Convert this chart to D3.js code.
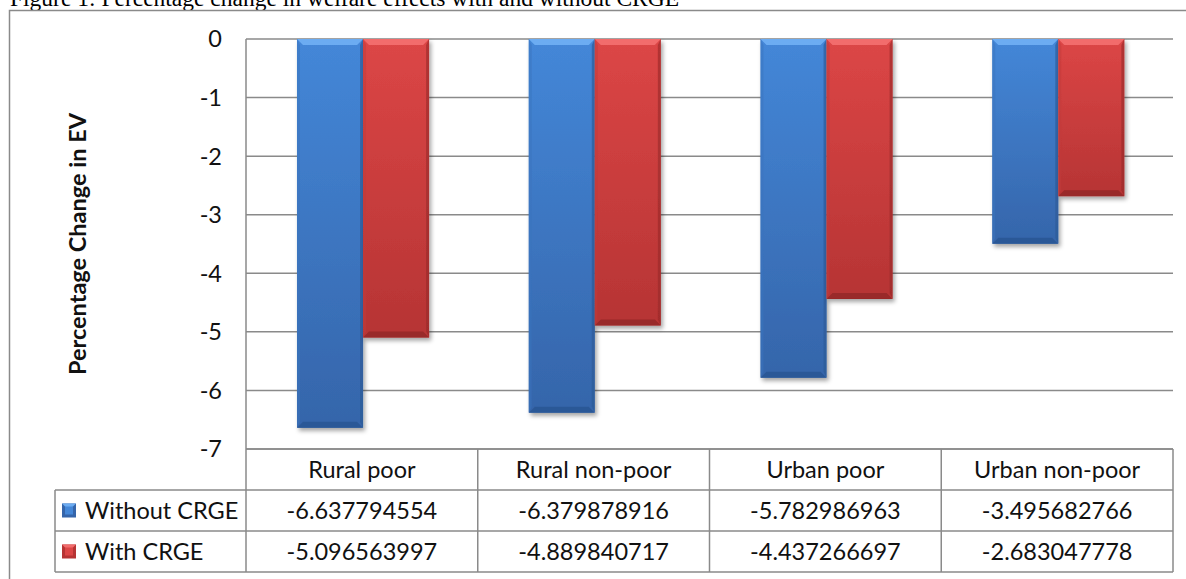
<!DOCTYPE html>
<html>

<head>
    <title>welfare chart</title>
    <style>
        body {
            margin: 0;
            overflow: hidden;
            background: #fff;
        }
        svg text {
            user-select: none;
        }
    </style>
    <script src="https://d3js.org/d3.v7.min.js"></script>
</head>

<body>
<script>
    // data
    const categories = ["Rural poor", "Rural non-poor", "Urban poor", "Urban non-poor"];
    const seriesNames = ["Without CRGE", "With CRGE"];
    const withoutCRGE = [-6.637794554, -6.379878916, -5.782986963, -3.495682766];
    const withCRGE = [-5.096563997, -4.889840717, -4.437266697, -2.683047778];
    const yTicks = [0, -1, -2, -3, -4, -5, -6, -7];
    const titleText = "Figure 1: Percentage change in welfare effects with and without CRGE";
    const yTitle = "Percentage Change in EV";

    const series = [
        {name: seriesNames[0], values: withoutCRGE, face: ["#4487d8", "#3565aa"], hi: "#6cacf2", lo: "#2b5895", side: "#3a73bd"},
        {name: seriesNames[1], values: withCRGE, face: ["#dc4646", "#b63434"], hi: "#f26c6c", lo: "#962828", side: "#c23a3a"}
    ];

    const width = 1186, height = 579;
    const plotL = 246, plotR = 1173, plotT = 39, plotB = 449;
    const rowH = 41;
    const legendLeft = 55;
    const font = "Lato, 'Open Sans', sans-serif";
    const fontSize = "23.5px";
    const gridColor = "#8a8a8a";

    const svg = d3.select("body").append("svg")
        .attr("width", width)
        .attr("height", height);

    const defs = svg.append("defs");
    defs.append("filter").attr("id", "shadow")
        .attr("x", "-20%").attr("y", "-5%").attr("width", "150%").attr("height", "120%")
        .append("feDropShadow")
        .attr("dx", 2).attr("dy", 3).attr("stdDeviation", 2.2)
        .attr("flood-color", "#000").attr("flood-opacity", 0.35);

    series.forEach((s, i) => {
        const g = defs.append("linearGradient").attr("id", "face" + i)
            .attr("x1", 0).attr("y1", 0).attr("x2", 0).attr("y2", 1);
        g.append("stop").attr("offset", "0%").attr("stop-color", s.face[0]);
        g.append("stop").attr("offset", "100%").attr("stop-color", s.face[1]);
    });

    // title, cut off by the page top like in the scan
    svg.append("text")
        .attr("x", 10).attr("y", 5.5)
        .style("font-family", "'Liberation Serif', 'Times New Roman', serif")
        .style("font-size", "23.5px")
        .text(titleText);

    // outer frame (runs past the right and bottom of the page)
    svg.append("rect")
        .attr("x", 9.5).attr("y", 10.5)
        .attr("width", 1300).attr("height", 700)
        .attr("fill", "none")
        .attr("stroke", gridColor)
        .attr("stroke-width", 1.5);

    const x = d3.scaleBand().domain(categories).range([plotL, plotR]);
    const bw = x.bandwidth();
    const x1 = d3.scaleBand().domain(seriesNames).range([0.22 * bw, 0.79 * bw]);
    const y = d3.scaleLinear().domain([-7, 0]).range([plotB, plotT]);

    // gridlines
    svg.append("g").selectAll("line")
        .data(yTicks)
        .join("line")
        .attr("x1", plotL).attr("x2", plotR)
        .attr("y1", d => y(d)).attr("y2", d => y(d))
        .attr("stroke", gridColor)
        .attr("stroke-width", 1.5);

    // y axis line + labels
    svg.append("line")
        .attr("x1", plotL).attr("x2", plotL)
        .attr("y1", plotT).attr("y2", plotB)
        .attr("stroke", gridColor).attr("stroke-width", 1.5);

    svg.append("g").selectAll("text")
        .data(yTicks)
        .join("text")
        .attr("x", 222)
        .attr("y", d => y(d))
        .attr("dy", "0.36em")
        .attr("text-anchor", "end")
        .style("font-family", font)
        .style("font-size", fontSize)
        .style("fill", "#111")
        .text(d => d3.format("d")(d).replace("−", "-"));

    svg.append("text")
        .attr("transform", `translate(86,${(plotT + plotB) / 2}) rotate(-90)`)
        .attr("text-anchor", "middle")
        .style("font-family", font)
        .style("font-size", "23.5px")
        .style("font-weight", "bold")
        .style("fill", "#111")
        .text(yTitle);

    // bars with bevel look
    const bev = 6;
    series.forEach((s, si) => {
        const grp = svg.append("g").attr("filter", "url(#shadow)");
        categories.forEach((c, ci) => {
            const x0 = x(c) + x1(s.name);
            const xr = x0 + x1.bandwidth();
            const y0 = y(0);
            const yb = y(s.values[ci]);
            const bar = grp.append("g");
            bar.append("rect")
                .attr("x", x0).attr("y", y0)
                .attr("width", x1.bandwidth()).attr("height", yb - y0)
                .attr("fill", `url(#face${si})`);
            const poly = (pts, fill, op) => bar.append("polygon")
                .attr("points", pts.map(p => p.join(",")).join(" "))
                .attr("fill", fill).attr("opacity", op);
            poly([[x0, y0], [xr, y0], [xr - bev, y0 + bev], [x0 + bev, y0 + bev]], s.hi, 1);
            poly([[x0, yb], [xr, yb], [xr - bev, yb - bev], [x0 + bev, yb - bev]], s.lo, 0.9);
            poly([[x0, y0], [x0 + bev * 0.5, y0 + bev], [x0 + bev * 0.5, yb - bev], [x0, yb]], s.side, 0.5);
            poly([[xr, y0], [xr - bev * 0.5, y0 + bev], [xr - bev * 0.5, yb - bev], [xr, yb]], s.lo, 0.6);
        });
    });

    // data table under the plot
    const tbl = svg.append("g");
    const line = (xa, ya, xb, yb) => tbl.append("line")
        .attr("x1", xa).attr("y1", ya).attr("x2", xb).attr("y2", yb)
        .attr("stroke", gridColor).attr("stroke-width", 1.5);

    line(plotL, plotB, plotR, plotB);
    for (let r = 1; r <= 3; r++) line(legendLeft, plotB + r * rowH, plotR, plotB + r * rowH);
    line(legendLeft, plotB + rowH, legendLeft, plotB + 3 * rowH);
    categories.forEach(c => line(x(c), plotB, x(c), plotB + 3 * rowH));
    line(plotR, plotB, plotR, plotB + 3 * rowH);

    const cellText = (tx, ty, str, anchor) => tbl.append("text")
        .attr("x", tx).attr("y", ty)
        .attr("dy", "0.36em")
        .attr("text-anchor", anchor)
        .style("font-family", font)
        .style("font-size", fontSize)
        .style("fill", "#111")
        .text(str);

    categories.forEach(c => cellText(x(c) + bw / 2, plotB + rowH / 2, c, "middle"));
    series.forEach((s, si) => {
        const cy = plotB + rowH * (si + 1) + rowH / 2;
        s.values.forEach((v, ci) => cellText(x(categories[ci]) + bw / 2, cy, String(v), "middle"));
        // legend key
        const k = 14, kx = 62, ky = cy - k / 2;
        tbl.append("rect").attr("x", kx).attr("y", ky).attr("width", k).attr("height", k)
            .attr("fill", s.face[1]);
        tbl.append("polygon")
            .attr("points", `${kx},${ky} ${kx + k},${ky} ${kx + k / 2},${ky + k / 2}`)
            .attr("fill", s.hi);
        tbl.append("rect").attr("x", kx + 3).attr("y", ky + 3).attr("width", k - 6).attr("height", k - 6)
            .attr("fill", s.face[0]);
        cellText(85, cy, s.name, "start");
    });
</script>
</body>

</html>
